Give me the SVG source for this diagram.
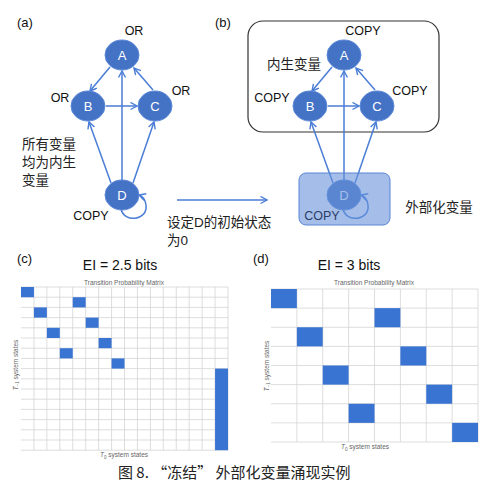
<svg xmlns="http://www.w3.org/2000/svg" width="500" height="493" viewBox="0 0 500 493">
<defs>
<marker id="ah" markerUnits="userSpaceOnUse" markerWidth="10" markerHeight="10" refX="7" refY="4" orient="auto">
<path d="M0.5,0.5 L7,4 L0.5,7.5" fill="none" stroke="#4a7dd6" stroke-width="1.4"/>
</marker>
<style>
.n{fill:#4472c4;stroke:#5b88d8;stroke-width:1}
.nl{font-family:"Liberation Sans",Arial,sans-serif;font-size:13px;fill:#fff;text-anchor:middle}
.lb{font-family:"Liberation Sans",Arial,sans-serif;font-size:12.5px;fill:#111;text-anchor:middle}
.pl{font-family:"Liberation Sans",Arial,sans-serif;font-size:13px;fill:#111}
.cn{font-family:"Liberation Sans","Noto Sans CJK SC",sans-serif;font-size:13.5px;fill:#222}
.ar{fill:none;stroke:#4a7dd6;stroke-width:1.5;marker-end:url(#ah)}
.ti{font-family:"Liberation Sans",Arial,sans-serif;font-size:14px;fill:#111;text-anchor:middle}
.sm{font-family:"Liberation Sans",Arial,sans-serif;font-size:6.5px;fill:#666;text-anchor:middle}
.g{stroke:#d4d4d4;stroke-width:0.8}
.c{fill:#3a74d2}
</style>
</defs>
<rect width="500" height="493" fill="#fff"/>

<!-- panel labels -->
<text class="pl" x="17" y="27">(a)</text>
<text class="pl" x="215" y="27">(b)</text>
<text class="pl" x="17" y="263">(c)</text>
<text class="pl" x="253" y="263">(d)</text>

<!-- Panel (a) -->
<g id="connectors-a">
<path class="ar" d="M110,67 L90,91"/>
<path class="ar" d="M106,106 L137,106"/>
<path class="ar" d="M153,90 L134,68"/>
<path class="ar" d="M122,181 L122,71"/>
<path class="ar" d="M111,183 L89,122"/>
<path class="ar" d="M133,183 L154,122"/>
<path class="ar" d="M121,209 C124,223 148,221 146,205 C145,198 142,196 139,195"/>
</g>
<g id="a-A"><ellipse class="n" cx="122" cy="55" rx="17" ry="15"/><text class="nl" x="122" y="60">A</text><text class="lb" x="134" y="35">OR</text></g>
<g id="a-B"><ellipse class="n" cx="88" cy="106" rx="17" ry="15"/><text class="nl" x="88" y="111">B</text><text class="lb" x="60" y="102">OR</text></g>
<g id="a-C"><ellipse class="n" cx="155" cy="106" rx="17" ry="15"/><text class="nl" x="155" y="111">C</text><text class="lb" x="181" y="95">OR</text></g>
<g id="a-D"><ellipse class="n" cx="122" cy="195" rx="17" ry="15"/><text class="nl" x="122" y="200">D</text><text class="lb" x="91" y="220">COPY</text></g>
<g id="a-note">
<text class="cn" x="22" y="149">所有变量</text>
<text class="cn" x="22" y="167">均为内生</text>
<text class="cn" x="22" y="185">变量</text>
</g>

<!-- transition arrow -->
<g id="transition">
<path class="ar" d="M177,200 L267,200"/>
<text class="cn" x="167" y="227">设定D的初始状态</text>
<text class="cn" x="167" y="245">为0</text>
</g>

<!-- Panel (b) -->
<g id="b-endo-box"><rect x="248" y="21" width="191" height="111" rx="15" fill="none" stroke="#333" stroke-width="1.2"/>
<text class="cn" x="294" y="69" text-anchor="middle">内生变量</text></g>
<g id="connectors-b">
<path class="ar" d="M332,67 L312,91"/>
<path class="ar" d="M328,106 L359,106"/>
<path class="ar" d="M375,90 L356,68"/>
<path class="ar" d="M344,181 L344,71"/>
<path class="ar" d="M333,183 L311,122"/>
<path class="ar" d="M355,183 L376,122"/>
<path class="ar" d="M343,209 C346,223 370,221 368,205 C367,198 364,196 361,195"/>
</g>
<g id="b-A"><ellipse class="n" cx="344" cy="55" rx="17" ry="15"/><text class="nl" x="344" y="60">A</text><text class="lb" x="363" y="35">COPY</text></g>
<g id="b-B"><ellipse class="n" cx="310" cy="106" rx="17" ry="15"/><text class="nl" x="310" y="111">B</text><text class="lb" x="272" y="102">COPY</text></g>
<g id="b-C"><ellipse class="n" cx="377" cy="106" rx="17" ry="15"/><text class="nl" x="377" y="111">C</text><text class="lb" x="410" y="95">COPY</text></g>
<g id="b-D"><ellipse class="n" cx="344" cy="195" rx="17" ry="15"/><text class="nl" x="344" y="200">D</text>
<rect x="299" y="173" width="91" height="52" rx="7" fill="#6893db" fill-opacity="0.6" stroke="#5b84d6" stroke-width="1"/>
<text class="lb" x="322" y="220" style="fill:#2c3d68">COPY</text></g>
<text class="cn" x="439" y="212" text-anchor="middle">外部化变量</text>

<!-- Panel (c) -->
<g id="matrix-c">
<text class="ti" x="120" y="270">EI = 2.5 bits</text>
<text class="sm" x="124" y="285">Transition Probability Matrix</text>
<g class="g">
<line x1="21" y1="287" x2="228" y2="287"/><line x1="21" y1="297.2" x2="228" y2="297.2"/><line x1="21" y1="307.4" x2="228" y2="307.4"/><line x1="21" y1="317.6" x2="228" y2="317.6"/><line x1="21" y1="327.8" x2="228" y2="327.8"/><line x1="21" y1="338" x2="228" y2="338"/><line x1="21" y1="348.2" x2="228" y2="348.2"/><line x1="21" y1="358.4" x2="228" y2="358.4"/><line x1="21" y1="368.6" x2="228" y2="368.6"/><line x1="21" y1="378.8" x2="228" y2="378.8"/><line x1="21" y1="389" x2="228" y2="389"/><line x1="21" y1="399.2" x2="228" y2="399.2"/><line x1="21" y1="409.4" x2="228" y2="409.4"/><line x1="21" y1="419.6" x2="228" y2="419.6"/><line x1="21" y1="429.8" x2="228" y2="429.8"/><line x1="21" y1="440" x2="228" y2="440"/><line x1="21" y1="450.2" x2="228" y2="450.2"/>
<line x1="33.94" y1="287" x2="33.94" y2="450.2"/><line x1="46.88" y1="287" x2="46.88" y2="450.2"/><line x1="59.81" y1="287" x2="59.81" y2="450.2"/><line x1="72.75" y1="287" x2="72.75" y2="450.2"/><line x1="85.69" y1="287" x2="85.69" y2="450.2"/><line x1="98.63" y1="287" x2="98.63" y2="450.2"/><line x1="111.56" y1="287" x2="111.56" y2="450.2"/><line x1="124.5" y1="287" x2="124.5" y2="450.2"/><line x1="137.44" y1="287" x2="137.44" y2="450.2"/><line x1="150.38" y1="287" x2="150.38" y2="450.2"/><line x1="163.31" y1="287" x2="163.31" y2="450.2"/><line x1="176.25" y1="287" x2="176.25" y2="450.2"/><line x1="189.19" y1="287" x2="189.19" y2="450.2"/><line x1="202.13" y1="287" x2="202.13" y2="450.2"/><line x1="215.06" y1="287" x2="215.06" y2="450.2"/><line x1="228" y1="287" x2="228" y2="450.2"/>
</g>
<rect class="c" x="21" y="287" width="12.94" height="10.2"/>
<rect class="c" x="72.75" y="297.2" width="12.94" height="10.2"/>
<rect class="c" x="33.94" y="307.4" width="12.94" height="10.2"/>
<rect class="c" x="85.69" y="317.6" width="12.94" height="10.2"/>
<rect class="c" x="46.88" y="327.8" width="12.94" height="10.2"/>
<rect class="c" x="98.63" y="338" width="12.94" height="10.2"/>
<rect class="c" x="59.81" y="348.2" width="12.94" height="10.2"/>
<rect class="c" x="111.56" y="358.4" width="12.94" height="10.2"/>
<rect class="c" x="215.06" y="368.6" width="12.94" height="81.6"/>
<text class="sm" transform="translate(17.5,365) rotate(-90)"><tspan font-style="italic">T</tspan><tspan font-size="4.5" dy="1.5">−1</tspan><tspan dy="-1.5"> system states</tspan></text>
<text class="sm" x="124" y="457"><tspan font-style="italic">T</tspan><tspan font-size="4.5" dy="1.5">0</tspan><tspan dy="-1.5"> system states</tspan></text>
</g>

<!-- Panel (d) -->
<g id="matrix-d">
<text class="ti" x="349" y="270">EI = 3 bits</text>
<text class="sm" x="374" y="285">Transition Probability Matrix</text>
<g class="g">
<line x1="271" y1="289" x2="478" y2="289"/><line x1="271" y1="308.13" x2="478" y2="308.13"/><line x1="271" y1="327.25" x2="478" y2="327.25"/><line x1="271" y1="346.38" x2="478" y2="346.38"/><line x1="271" y1="365.5" x2="478" y2="365.5"/><line x1="271" y1="384.63" x2="478" y2="384.63"/><line x1="271" y1="403.75" x2="478" y2="403.75"/><line x1="271" y1="422.88" x2="478" y2="422.88"/><line x1="271" y1="442" x2="478" y2="442"/>
<line x1="296.88" y1="289" x2="296.88" y2="442"/><line x1="322.75" y1="289" x2="322.75" y2="442"/><line x1="348.63" y1="289" x2="348.63" y2="442"/><line x1="374.5" y1="289" x2="374.5" y2="442"/><line x1="400.38" y1="289" x2="400.38" y2="442"/><line x1="426.25" y1="289" x2="426.25" y2="442"/><line x1="452.13" y1="289" x2="452.13" y2="442"/><line x1="478" y1="289" x2="478" y2="442"/>
</g>
<rect class="c" x="271" y="289" width="25.88" height="19.13"/>
<rect class="c" x="374.5" y="308.13" width="25.88" height="19.13"/>
<rect class="c" x="296.88" y="327.25" width="25.88" height="19.13"/>
<rect class="c" x="400.38" y="346.38" width="25.88" height="19.13"/>
<rect class="c" x="322.75" y="365.5" width="25.88" height="19.13"/>
<rect class="c" x="426.25" y="384.63" width="25.88" height="19.13"/>
<rect class="c" x="348.63" y="403.75" width="25.88" height="19.13"/>
<rect class="c" x="452.13" y="422.88" width="25.88" height="19.13"/>
<text class="sm" transform="translate(268.5,366) rotate(-90)"><tspan font-style="italic">T</tspan><tspan font-size="4.5" dy="1.5">−1</tspan><tspan dy="-1.5"> system states</tspan></text>
<text class="sm" x="365" y="449"><tspan font-style="italic">T</tspan><tspan font-size="4.5" dy="1.5">0</tspan><tspan dy="-1.5"> system states</tspan></text>
</g>

<!-- caption -->
<text x="118" y="478" font-family="'Noto Sans CJK SC',sans-serif" font-size="15" fill="#222">图 8. “冻结” 外部化变量涌现实例</text>
</svg>
